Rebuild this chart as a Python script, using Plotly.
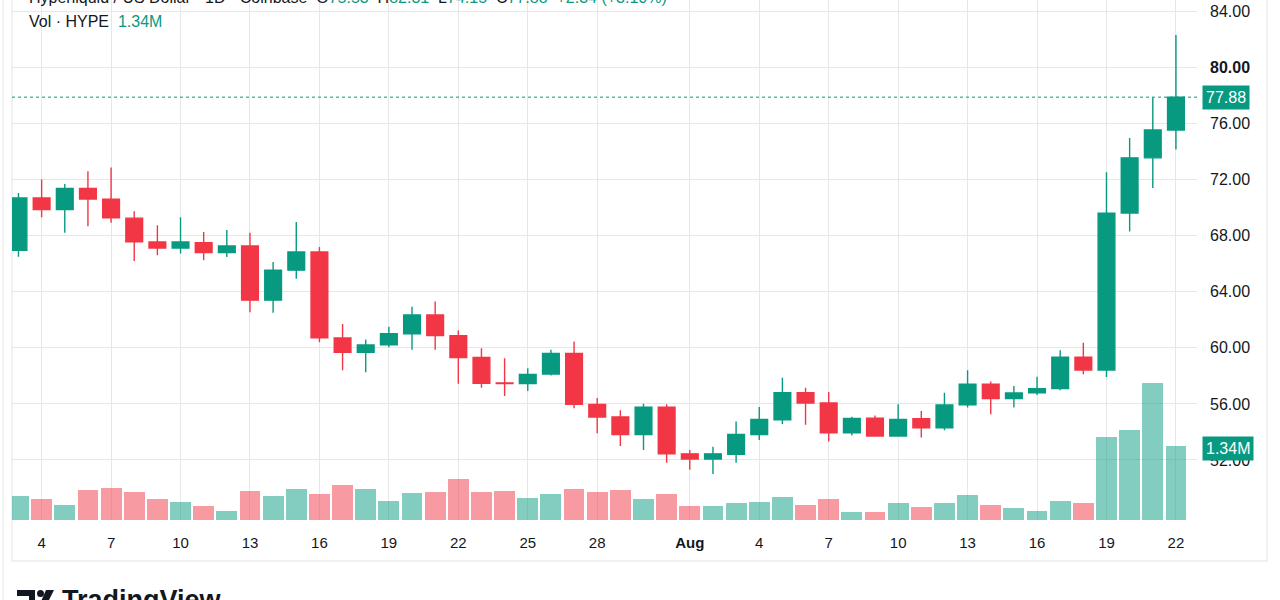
import pandas as pd
import plotly.graph_objects as go

# -------------------------------------------------
# Data (HYPE / USD, daily)
# -------------------------------------------------
dates = pd.date_range("2025-07-03", "2025-08-22", freq="D")

opens = [
    66.96, 70.69, 69.87, 71.36, 70.60, 69.25, 67.55, 67.12, 67.50, 66.79,
    67.26, 63.40, 65.54, 66.84, 60.71, 59.68, 60.21, 61.00, 62.35, 60.87,
    59.31, 57.50, 57.45, 58.13, 59.60, 55.97, 55.07, 53.82, 55.76, 52.44,
    52.07, 52.40, 53.82, 54.87, 56.80, 56.07, 53.94, 54.98, 53.71, 54.94,
    54.30, 55.93, 57.40, 56.38, 56.80, 57.09, 59.34, 58.42, 69.61, 73.55,
    75.53,
]
highs = [
    71.05, 72.00, 71.69, 72.59, 72.87, 69.75, 68.75, 69.32, 68.26, 68.40,
    68.21, 66.13, 68.97, 67.19, 61.70, 60.59, 61.50, 62.93, 63.31, 61.23,
    59.97, 59.26, 58.55, 59.86, 60.45, 56.42, 55.55, 56.02, 55.97, 52.71,
    52.94, 54.75, 55.78, 57.87, 57.16, 56.85, 55.08, 55.17, 55.98, 55.50,
    56.80, 58.40, 57.59, 57.28, 57.94, 59.82, 60.36, 72.52, 74.96, 77.85,
    82.31,
]
lows = [
    66.50, 69.32, 68.21, 68.67, 68.92, 66.20, 66.60, 66.72, 66.25, 66.48,
    62.53, 62.50, 64.92, 60.40, 58.40, 58.25, 60.05, 59.86, 59.86, 57.44,
    57.16, 56.56, 56.92, 58.03, 55.69, 53.90, 53.00, 52.71, 51.80, 51.30,
    51.00, 51.81, 53.42, 54.56, 54.51, 53.32, 53.75, 53.66, 53.66, 53.61,
    54.13, 55.74, 55.27, 55.74, 56.64, 56.97, 58.11, 57.92, 68.29, 71.40,
    74.15,
]
closes = [
    70.69, 69.87, 71.36, 70.62, 69.27, 67.57, 67.12, 67.55, 66.79, 67.26,
    63.40, 65.54, 66.84, 60.71, 59.68, 60.21, 61.00, 62.35, 60.87, 59.31,
    57.47, 57.45, 58.10, 59.60, 55.97, 55.07, 53.82, 55.76, 52.44, 52.07,
    52.44, 53.82, 54.89, 56.80, 56.07, 53.94, 54.96, 53.71, 54.89, 54.30,
    55.93, 57.40, 56.38, 56.78, 57.09, 59.34, 58.42, 69.61, 73.55, 75.54,
    77.88,
]
# volume in millions of HYPE
volumes = [
    0.44, 0.38, 0.28, 0.54, 0.59, 0.50, 0.38, 0.33, 0.26, 0.16,
    0.53, 0.44, 0.57, 0.47, 0.64, 0.57, 0.35, 0.49, 0.51, 0.74,
    0.50, 0.53, 0.40, 0.47, 0.56, 0.51, 0.55, 0.38, 0.48, 0.25,
    0.26, 0.31, 0.33, 0.41, 0.27, 0.39, 0.14, 0.15, 0.30, 0.24,
    0.30, 0.46, 0.27, 0.22, 0.16, 0.35, 0.31, 1.51, 1.64, 2.49,
    1.34,
]

price_ticks = [52, 56, 60, 64, 68, 72, 76, 80, 84]
x_tick_dates = [
    "2025-07-04", "2025-07-07", "2025-07-10", "2025-07-13", "2025-07-16",
    "2025-07-19", "2025-07-22", "2025-07-25", "2025-07-28", "2025-08-01",
    "2025-08-04", "2025-08-07", "2025-08-10", "2025-08-13", "2025-08-16",
    "2025-08-19", "2025-08-22",
]
x_tick_text = [
    "4", "7", "10", "13", "16", "19", "22", "25", "28", "<b>Aug</b>",
    "4", "7", "10", "13", "16", "19", "22",
]

# -------------------------------------------------
# Styling
# -------------------------------------------------
UP = "#089981"
DOWN = "#F23645"
UP_VOL = "rgba(8,153,129,0.5)"
DOWN_VOL = "rgba(242,54,69,0.5)"
GRID = "#e7e7e7"
TEXT = "#131722"
FONT = "Liberation Sans"

W, H = 1280, 600
L, R, T, B = 12, 83, 0, 80
PW, PH = W - L - R, H - T - B


def px(x):
    # pixel x -> paper x
    return (x - L) / PW


def py(y):
    # pixel y -> paper y
    return (H - B - y) / PH


last_close = closes[-1]
last_vol = volumes[-1]
vol_colors = [UP_VOL if c >= o else DOWN_VOL for o, c in zip(opens, closes)]
tick_labels = [f"{t:.2f}" if t != 80 else f"<b>{t:.2f}</b>" for t in price_ticks]

day = pd.Timedelta(days=1)
x_range = [dates[0] - 0.28 * day, dates[-1] + 0.91 * day]

fig = go.Figure()

fig.add_trace(go.Candlestick(
    x=dates, open=opens, high=highs, low=lows, close=closes,
    increasing=dict(line=dict(color=UP, width=1.4), fillcolor=UP),
    decreasing=dict(line=dict(color=DOWN, width=1.4), fillcolor=DOWN),
    whiskerwidth=0,
    hoverinfo="skip",
    showlegend=False,
))

fig.add_trace(go.Bar(
    x=dates, y=volumes, yaxis="y2",
    width=0.9 * 86400000,
    marker=dict(color=vol_colors, line=dict(width=0)),
    hoverinfo="skip",
    showlegend=False,
))

# dotted last price line
fig.add_shape(type="line", xref="paper", yref="y", x0=0, x1=1,
              y0=last_close, y1=last_close,
              line=dict(color=UP, width=1, dash="dot"))

# chart frame + outer page line
fig.add_shape(type="rect", xref="paper", yref="paper",
              x0=px(12), x1=px(1267), y0=py(561), y1=py(-10),
              line=dict(color="#e0e3eb", width=1), layer="below")
fig.add_shape(type="line", xref="paper", yref="paper",
              x0=px(3), x1=px(3), y0=py(600), y1=py(0),
              line=dict(color="#e6e6e6", width=1))

# TradingView logo (cut off at the bottom edge)
fig.add_shape(type="path", xref="paper", yref="paper",
              path=(f"M {px(17)} {py(590)} L {px(35)} {py(590)} L {px(35)} {py(605)} "
                    f"L {px(29)} {py(605)} L {px(29)} {py(596)} L {px(17)} {py(596)} Z"),
              fillcolor="#131722", line=dict(width=0))
fig.add_shape(type="circle", xref="paper", yref="paper",
              x0=px(37), x1=px(44), y0=py(597), y1=py(590),
              fillcolor="#131722", line=dict(width=0))
fig.add_shape(type="path", xref="paper", yref="paper",
              path=(f"M {px(46)} {py(590)} L {px(54)} {py(590)} L {px(46)} {py(606)} "
                    f"L {px(39)} {py(606)} Z"),
              fillcolor="#131722", line=dict(width=0))

g = f"<span style='color:{UP}'>"
header = (
    "Hyperliquid / US Dollar · 1D · Coinbase  "
    f"O{g}{opens[-1]:.2f}</span>  H{g}{highs[-1]:.2f}</span>  "
    f"L{g}{lows[-1]:.2f}</span>  C{g}{last_close:.2f}</span>  "
    f"{g}+{last_close - closes[-2]:.2f} (+{(last_close / closes[-2] - 1) * 100:.2f}%)</span>"
)

annotations = [
    dict(text=header, xref="paper", yref="paper", x=px(27), y=py(-3),
         xanchor="left", yanchor="middle", showarrow=False,
         font=dict(size=16, color=TEXT, family=FONT)),
    dict(text=f"Vol · HYPE  {g}{last_vol:.2f}M</span>", xref="paper", yref="paper",
         x=px(27), y=py(22), xanchor="left", yanchor="middle", showarrow=False,
         font=dict(size=16, color=TEXT, family=FONT)),
    dict(text=f"{last_close:.2f}", xref="paper", yref="y", x=px(1202), y=last_close,
         xanchor="left", yanchor="middle", showarrow=False, bgcolor=UP,
         borderpad=3, font=dict(size=16, color="white", family=FONT)),
    dict(text=f"{last_vol:.2f}M", xref="paper", yref="y2", x=px(1202), y=last_vol,
         yshift=-2, xanchor="left", yanchor="middle", showarrow=False, bgcolor=UP,
         borderpad=3, font=dict(size=16, color="white", family=FONT)),
    dict(text="<b>TradingView</b>", xref="paper", yref="paper", x=px(60), y=py(583),
         xanchor="left", yanchor="top", showarrow=False,
         font=dict(size=27, color="#131722", family=FONT)),
]

fig.update_layout(
    width=W, height=H,
    margin=dict(l=L, r=R, t=T, b=B),
    paper_bgcolor="white",
    plot_bgcolor="white",
    font=dict(family=FONT, color=TEXT, size=15),
    showlegend=False,
    bargap=0,
    boxgap=0.15,
    boxgroupgap=0.15,
    annotations=annotations,
    xaxis=dict(
        type="date", range=x_range,
        rangeslider=dict(visible=False),
        tickvals=x_tick_dates, ticktext=x_tick_text,
        showgrid=True, gridcolor=GRID, gridwidth=1,
        zeroline=False, showline=False, ticks="",
        ticklabelstandoff=12,
        tickfont=dict(size=15, color=TEXT),
    ),
    yaxis=dict(
        side="right", range=[47.72, 84.81],
        tickvals=price_ticks, ticktext=tick_labels,
        showgrid=True, gridcolor=GRID, gridwidth=1,
        zeroline=False, showline=False, ticks="",
        ticklabelstandoff=12,
        tickfont=dict(size=16, color=TEXT),
    ),
    yaxis2=dict(
        overlaying="y", range=[0, 9.45], visible=False,
        showgrid=False, zeroline=False,
    ),
)

# drop the browser's default body margin so the figure sits at (0, 0)
fig.write_html(
    "out.html",
    config={"displayModeBar": False},
    post_script="document.body.style.margin = '0px';",
)
